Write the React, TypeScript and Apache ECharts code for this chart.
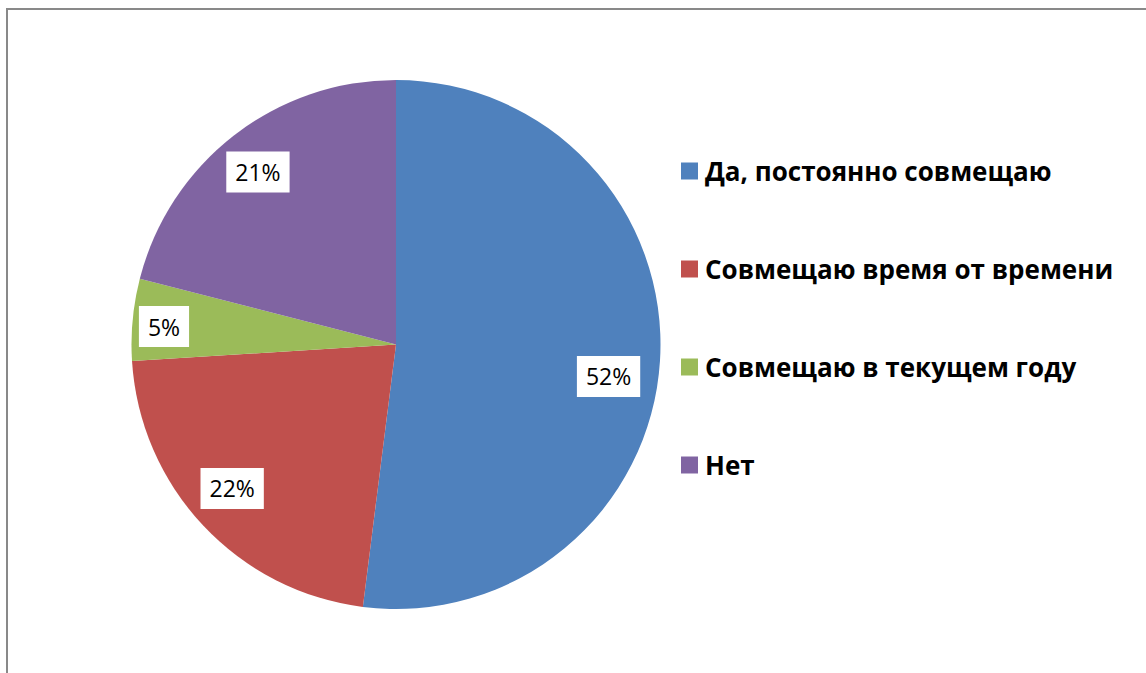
import React, { useEffect, useRef } from "react";
import * as echarts from "echarts";

const categories = [
  "Да, постоянно совмещаю",
  "Совмещаю время от времени",
  "Совмещаю в текущем году",
  "Нет",
];
const values = [52, 22, 5, 21];
const colors = ["#4F81BD", "#C0504D", "#9BBB59", "#8064A2"];

export default function App() {
  const ref = useRef<HTMLDivElement>(null);
  useEffect(() => {
    if (!ref.current) return;
    const chart = echarts.init(ref.current, undefined, { renderer: "svg" });
    const labelOffsets = [
      [-9, 18],
      [-2, -8],
      [-11, 3],
      [-2, 3],
    ];
    chart.setOption({
      animation: false,
      color: colors,
      graphic: [
        {
          type: "rect",
          shape: { x: 7, y: 9, width: 1300, height: 800 },
          style: { fill: "none", stroke: "#898989", lineWidth: 2 },
          silent: true,
        },
      ],
      legend: {
        orient: "vertical",
        left: 676,
        top: 150,
        itemWidth: 17,
        itemHeight: 17,
        itemGap: 66,
        icon: "rect",
        data: categories,
        textStyle: {
          fontFamily: "Open Sans",
          fontWeight: "bold",
          fontSize: 26,
          lineHeight: 32,
          color: "#000",
          padding: [0, 0, 0, 2],
        },
      },
      series: [
        {
          type: "pie",
          center: [396, 344.5],
          radius: [0, 264.5],
          startAngle: 90,
          clockwise: true,
          silent: true,
          label: { show: false },
          labelLine: { show: false },
          itemStyle: { borderWidth: 0 },
          data: categories.map((name, i) => ({
            name,
            value: values[i],
            itemStyle: { color: colors[i] },
          })),
        },
        {
          type: "pie",
          center: [396, 344.5],
          radius: [173.5, 264.5],
          startAngle: 90,
          clockwise: true,
          silent: true,
          itemStyle: { color: "transparent", borderWidth: 0 },
          labelLine: { show: false },
          label: {
            show: true,
            position: "inside",
            formatter: (p: any) => p.value + "%",
            fontFamily: "Open Sans",
            fontSize: 23,
            lineHeight: 24,
            color: "#000",
            backgroundColor: "#fff",
            padding: [9, 9, 8, 9],
          },
          data: categories.map((name, i) => ({
            name,
            value: values[i],
            label: { offset: labelOffsets[i] },
          })),
        },
      ],
    });
    return () => chart.dispose();
  }, []);
  return (
    <div
      ref={ref}
      style={{ position: "absolute", left: 0, top: 0, width: 1146, height: 673 }}
    />
  );
}
